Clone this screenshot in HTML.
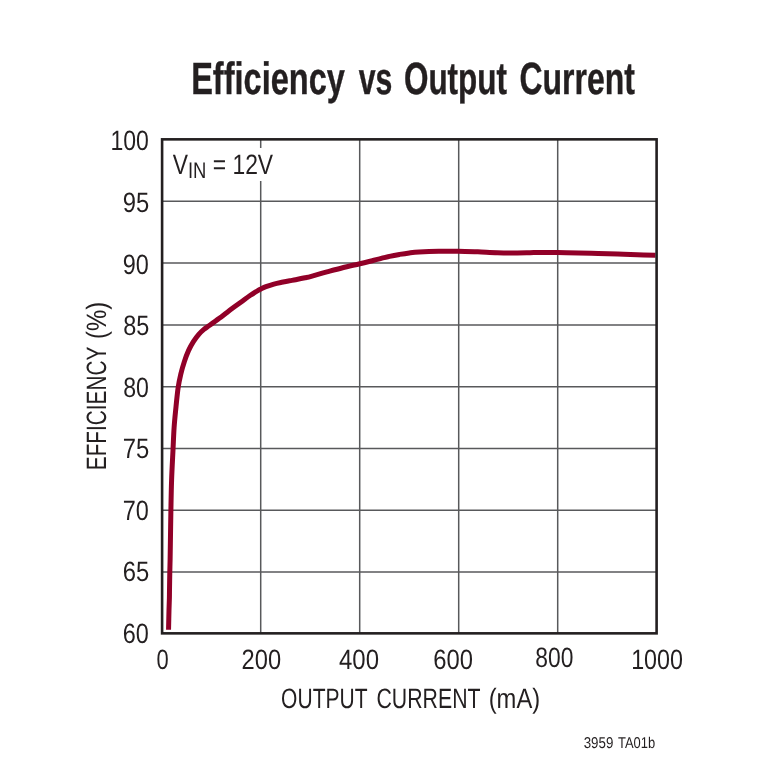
<!DOCTYPE html>
<html><head><meta charset="utf-8"><style>
html,body{margin:0;padding:0;background:#fff;}
svg{display:block;font-family:"Liberation Sans",sans-serif;}
</style></head><body>
<svg width="767" height="775" viewBox="0 0 767 775">
<rect width="767" height="775" fill="#fff"/>
<g stroke="#58595b" stroke-width="1.5" fill="none"><line x1="260.70" y1="139.35" x2="260.70" y2="633.4"/><line x1="359.70" y1="139.35" x2="359.70" y2="633.4"/><line x1="458.70" y1="139.35" x2="458.70" y2="633.4"/><line x1="557.70" y1="139.35" x2="557.70" y2="633.4"/><line x1="162.1" y1="201.30" x2="656.6" y2="201.30"/><line x1="162.1" y1="263.00" x2="656.6" y2="263.00"/><line x1="162.1" y1="325.00" x2="656.6" y2="325.00"/><line x1="162.1" y1="386.70" x2="656.6" y2="386.70"/><line x1="162.1" y1="448.50" x2="656.6" y2="448.50"/><line x1="162.1" y1="510.20" x2="656.6" y2="510.20"/><line x1="162.1" y1="572.00" x2="656.6" y2="572.00"/></g>
<rect x="166" y="148" width="112" height="33" fill="#fff"/>
<path d="M168.55,629.70 C168.62,626.42 168.86,615.28 169.00,610.00 C169.14,604.72 169.32,601.33 169.40,598.00 C169.48,594.67 169.43,594.33 169.50,590.00 C169.57,585.67 169.70,577.00 169.80,572.00 C169.90,567.00 169.98,566.17 170.10,560.00 C170.22,553.83 170.37,543.33 170.50,535.00 C170.63,526.67 170.72,519.17 170.90,510.00 C171.08,500.83 171.25,490.00 171.60,480.00 C171.95,470.00 172.58,458.74 173.00,450.00 C173.42,441.26 173.65,434.30 174.10,427.59 C174.55,420.88 175.03,416.38 175.70,409.76 C176.37,403.14 177.25,393.84 178.10,387.89 C178.95,381.95 179.75,378.50 180.80,374.10 C181.85,369.70 183.12,365.42 184.40,361.50 C185.68,357.58 187.00,353.92 188.50,350.60 C190.00,347.28 191.68,344.30 193.40,341.60 C195.12,338.90 197.05,336.43 198.80,334.40 C200.55,332.37 202.08,330.92 203.90,329.40 C205.72,327.88 207.13,327.15 209.70,325.30 C212.27,323.45 216.42,320.45 219.30,318.30 C222.18,316.15 224.42,314.35 227.00,312.40 C229.58,310.45 232.20,308.52 234.80,306.60 C237.40,304.68 240.00,302.78 242.60,300.90 C245.20,299.02 247.80,297.05 250.40,295.30 C253.00,293.55 256.45,291.45 258.20,290.40 C259.95,289.35 259.60,289.62 260.90,289.00 C262.20,288.38 263.83,287.52 266.00,286.70 C268.17,285.88 271.28,284.83 273.90,284.10 C276.52,283.37 279.10,282.85 281.70,282.30 C284.30,281.75 287.18,281.23 289.50,280.80 C291.82,280.37 293.02,280.20 295.60,279.70 C298.18,279.20 302.38,278.37 305.00,277.80 C307.62,277.23 307.65,277.28 311.30,276.30 C314.95,275.32 321.68,273.33 326.90,271.90 C332.12,270.47 337.12,269.06 342.60,267.70 C348.08,266.34 354.58,264.98 359.80,263.75 C365.02,262.52 368.95,261.52 373.90,260.30 C378.85,259.07 385.22,257.38 389.50,256.40 C393.78,255.42 396.30,254.98 399.60,254.40 C402.90,253.82 406.05,253.31 409.30,252.90 C412.55,252.49 414.20,252.23 419.10,251.95 C424.00,251.67 432.18,251.32 438.70,251.20 C445.22,251.08 451.68,251.14 458.20,251.25 C464.72,251.36 471.28,251.62 477.80,251.85 C484.32,252.08 490.78,252.47 497.30,252.65 C503.82,252.83 511.45,252.94 516.90,252.95 C522.35,252.96 526.22,252.78 530.00,252.70 C533.78,252.62 535.00,252.49 539.60,252.45 C544.20,252.41 551.08,252.38 557.60,252.45 C564.12,252.52 571.93,252.72 578.70,252.90 C585.47,253.08 591.68,253.30 598.20,253.50 C604.72,253.70 611.28,253.90 617.80,254.10 C624.32,254.30 631.02,254.51 637.30,254.70 C643.58,254.89 652.47,255.16 655.50,255.25" fill="none" stroke="#910028" stroke-width="5.0" stroke-linejoin="round"/>
<rect x="162.1" y="139.35" width="494.5" height="494.0" fill="none" stroke="#231f20" stroke-width="2.6"/>
<g fill="#231f20" font-size="28px" style="opacity:0.999;text-rendering:geometricPrecision">
<g font-size="45.2px" font-weight="bold" stroke="#231f20" stroke-width="0.4"><text transform="translate(191.16,93.90) scale(0.7199,1)">Efficiency</text><text transform="translate(358.70,93.90) scale(0.6689,1)">vs</text><text transform="translate(403.92,93.90) scale(0.6964,1)">Output</text><text transform="translate(519.50,93.90) scale(0.7073,1)">Current</text></g>
<text transform="translate(110.46,149.75) scale(0.8222,1)">100</text><text transform="translate(122.79,212.05) scale(0.8502,1)">95</text><text transform="translate(122.80,273.95) scale(0.8373,1)">90</text><text transform="translate(123.16,334.95) scale(0.8376,1)">85</text><text transform="translate(123.17,396.95) scale(0.8252,1)">80</text><text transform="translate(122.79,457.75) scale(0.8502,1)">75</text><text transform="translate(122.80,519.75) scale(0.8373,1)">70</text><text transform="translate(122.79,581.05) scale(0.8502,1)">65</text><text transform="translate(122.80,643.15) scale(0.8373,1)">60</text>
<text transform="translate(156.61,668.85) scale(0.7821,1)">0</text><text transform="translate(241.59,668.85) scale(0.8454,1)">200</text><text transform="translate(339.02,668.55) scale(0.8556,1)">400</text><text transform="translate(433.19,668.55) scale(0.8499,1)">600</text><text transform="translate(535.28,667.35) scale(0.8152,1)">800</text><text transform="translate(631.14,668.95) scale(0.8322,1)">1000</text>
<text transform="translate(281.12,707.70) scale(0.7502,1)">OUTPUT</text><text transform="translate(376.50,707.70) scale(0.7602,1)">CURRENT</text><text transform="translate(488.69,707.70) scale(0.8482,1)">(mA)</text>
<text transform="translate(106.10,470.23) rotate(-90) scale(0.7423,1)">EFFICIENCY</text><text transform="translate(106.10,338.92) rotate(-90) scale(0.8532,1)">(%)</text>
<text id="vin" transform="translate(172.7,173.6) scale(0.816,1)">V<tspan font-size="22.6px" dy="4.8">IN</tspan><tspan dy="-4.8"> = 12V</tspan></text>
<g font-size="15.7px"><text transform="translate(583.68,747.80) scale(0.8491,1)">3959</text><text transform="translate(617.99,747.80) scale(0.8256,1)">TA01b</text></g>
</g>
</svg>
</body></html>
